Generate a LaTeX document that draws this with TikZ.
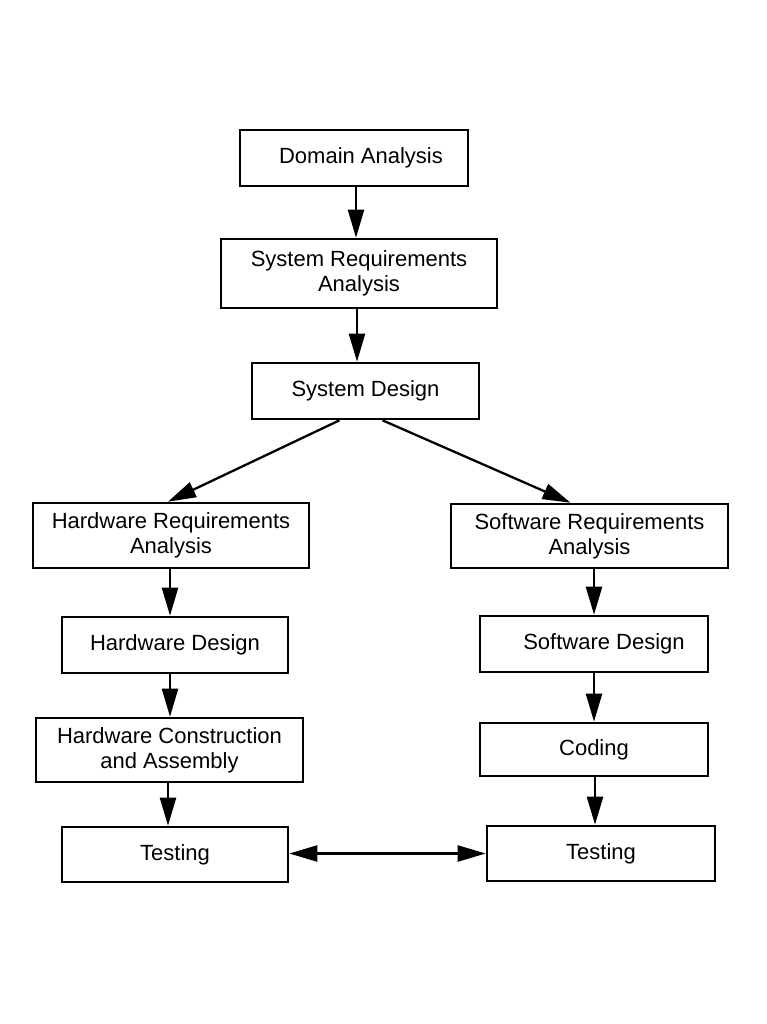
\documentclass[tikz,border=0pt]{standalone}
\usepackage{fontspec}
\setmainfont{Liberation Sans}
\usetikzlibrary{arrows.meta,calc}
\begin{document}
\begin{tikzpicture}[x=1pt,y=-1pt,
  box/.style={draw, line width=2.6pt, inner sep=0pt, align=center,
    font=\fontsize{22}{25}\selectfont},
  conn/.style={line width=2.3pt, -{Triangle[length=28pt,width=16pt]}},
  both/.style={line width=2.3pt, {Triangle[length=28pt,width=16pt]}-{Triangle[length=28pt,width=16pt]}}]
\useasboundingbox (0,0) rectangle (767,1024);
\node[box, minimum width=228pt, minimum height=56pt] (dom) at (354,158) {\hspace{14pt}Domain Analysis};
\node[box, minimum width=276pt, minimum height=69pt] (sysreq) at (359,273.5) {System Requirements\\Analysis};
\node[box, minimum width=227pt, minimum height=56pt] (sysdes) at (365.5,391) {System Design};
\node[box, minimum width=276pt, minimum height=65pt] (hwreq) at (171,535.5) {Hardware Requirements\\Analysis};
\node[box, minimum width=277pt, minimum height=64pt] (swreq) at (589.5,536) {Software Requirements\\Analysis};
\node[box, minimum width=226pt, minimum height=56pt] (hwdes) at (175,645) {Hardware Design};
\node[box, minimum width=228pt, minimum height=56pt] (swdes) at (594,644) {\hspace{20pt}Software Design};
\node[box, minimum width=267pt, minimum height=64pt] (hwcon) at (169.5,750) {Hardware Construction\\and Assembly};
\node[box, minimum width=228pt, minimum height=53pt] (coding) at (594,749.5) {Coding};
\node[box, minimum width=226pt, minimum height=55pt] (hwtest) at (175,854.5) {Testing};
\node[box, minimum width=228pt, minimum height=55pt] (swtest) at (601,853.5) {Testing};

\draw[conn] ($(dom.south)+(2,0)$) -- ($(dom.south |- sysreq.north)+(2,0)$);
\draw[conn] ($(sysreq.south)+(-2,0)$) -- ($(sysreq.south |- sysdes.north)+(-2,0)$);
\draw[conn] ($(sysdes.south)+(-26,0)$) -- ($(hwreq.north)+(-3,0)$);
\draw[conn] ($(sysdes.south)+(17,0)$) -- ($(swreq.north)+(-19,0)$);
\draw[conn] ($(hwreq.south)+(-1,0)$) -- ($(hwreq.south |- hwdes.north)+(-1,0)$);
\draw[conn] (swreq.south -| swdes.north) -- (swdes.north);
\draw[conn] ($(hwdes.south)+(-5,0)$) -- ($(hwdes.south |- hwcon.north)+(-5,0)$);
\draw[conn] (swdes.south) -- (coding.north);
\draw[conn] ($(hwcon.south)+(-1.5,0)$) -- ($(hwcon.south |- hwtest.north)+(-1.5,0)$);
\draw[conn] ($(coding.south)+(1,0)$) -- ($(coding.south |- swtest.north)+(1,0)$);
\draw[both] ($(hwtest.east)+(0,-1)$) -- ($(hwtest.east -| swtest.west)+(0,-1)$);
\end{tikzpicture}
\end{document}
